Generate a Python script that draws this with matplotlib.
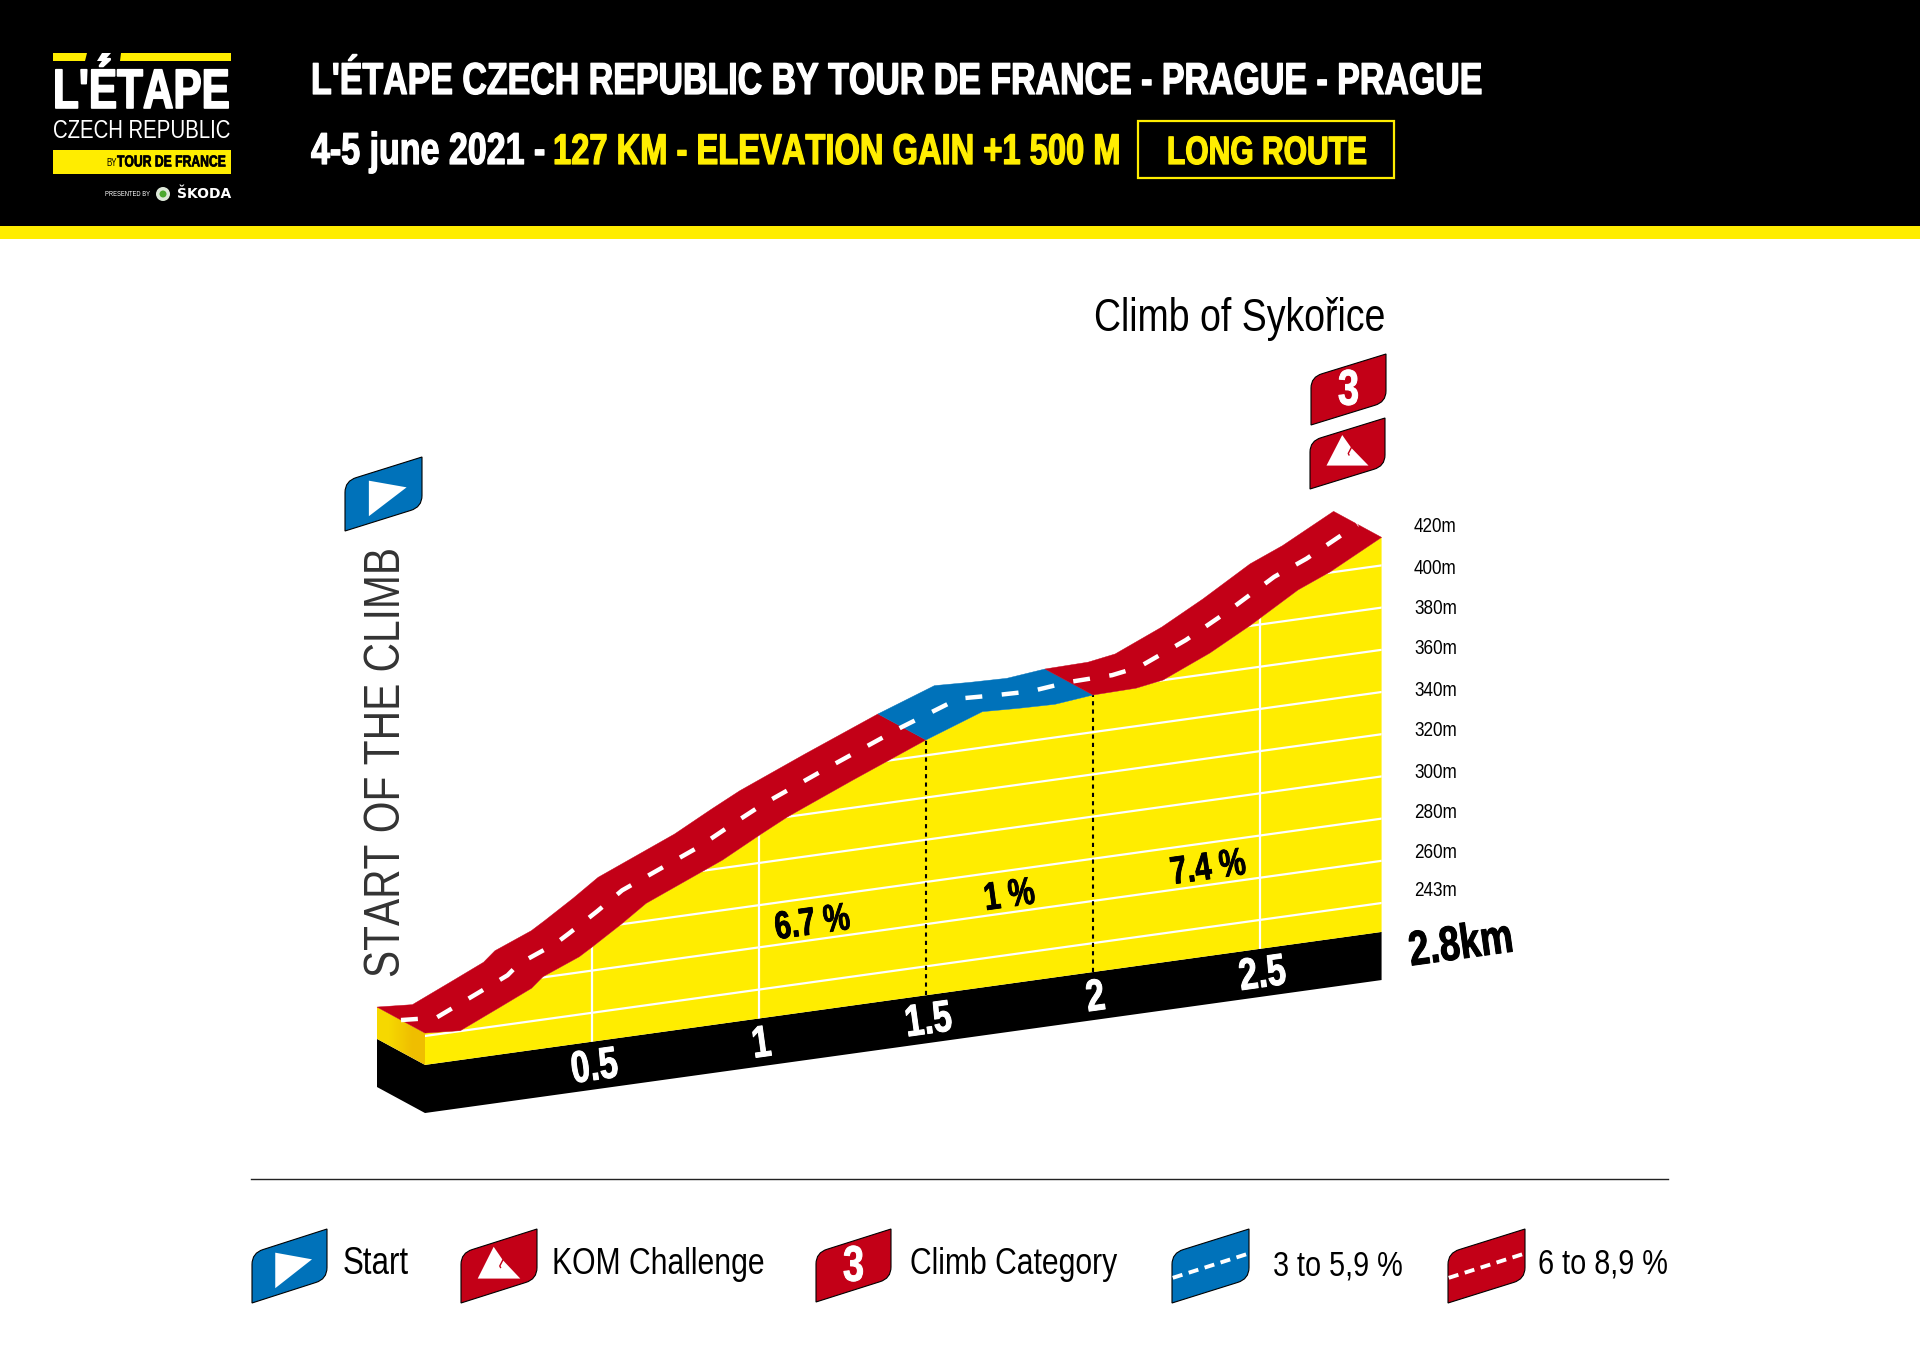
import numpy as np
import matplotlib
matplotlib.use("Agg")
import matplotlib.pyplot as plt
import matplotlib.patheffects as pe
from matplotlib import font_manager as fm
from matplotlib.path import Path
from matplotlib.patches import PathPatch, Polygon, Rectangle, Circle
from matplotlib.transforms import Affine2D
from fontTools.ttLib import TTFont

# ---------- data ----------
km = [0, .106, .227, .319, .353, .462, .502, .588, .662, .891, 1.002, 1.086, 1.281, 1.5,
      1.669, 1.777, 1.886, 2.0, 2.129, 2.21, 2.35, 2.473, 2.614, 2.711, 2.864]
elevation = [241.4, 240.2, 248.9, 255.6, 260.3, 267.4, 271.3, 280.1, 288.3, 303.8, 313.2, 320, 333.1, 347.3,
             357, 356.2, 355.7, 357.6, 358, 360.1, 369.8, 380.4, 393.9, 400.4, 413.3]
segment_breaks = [0, 1.5, 2.0, 2.864]
segment_kinds = ["red", "blue", "red"]
km_ticks = [0.5, 1, 1.5, 2, 2.5]
km_tick_labels = ["0.5", "1", "1.5", "2", "2.5"]
grid_levels = [240, 260, 280, 300, 320, 340, 360, 380, 400]
elev_labels = ["243m", "260m", "280m", "300m", "320m", "340m", "360m", "380m", "400m", "420m"]
pct_km = [1.16, 1.75, 2.345]
pct_labels = ["6.7 %", "1 %", "7.4 %"]
legend_labels = ["Start", "KOM Challenge", "Climb Category", "3 to 5,9 %", "6 to 8,9 %"]


# ---------- a condensed face built from the installed Liberation Sans ----------
def condensed(weight, ratio, family):
    src = fm.findfont(fm.FontProperties(family="Liberation Sans", weight=weight))
    f = TTFont(src)
    glyf, hmtx = f["glyf"], f["hmtx"]
    for tag in ("fpgm", "prep", "cvt ", "hdmx", "VDMX", "LTSH", "kern", "GPOS", "GSUB"):
        if tag in f:
            del f[tag]
    order = f.getGlyphOrder()
    for name in order:
        g = glyf[name]
        adv, lsb = hmtx[name]
        hmtx[name] = (round(adv * ratio), round(lsb * ratio))
        if g.isComposite():
            for c in g.components:
                c.x = round(c.x * ratio)
        elif g.numberOfContours > 0:
            g.coordinates.scale((ratio, 1))
            g.coordinates.toInt()
            g.program.fromBytecode(b"")
    for name in order:
        glyf[name].recalcBounds(glyf)
    for rec in f["name"].names:
        if rec.nameID in (1, 16):
            rec.string = family
        elif rec.nameID in (4, 6):
            rec.string = family + " " + weight
    out = f"{family}-{weight}.ttf"
    f.save(out)
    fm.fontManager.addfont(out)


condensed("normal", 0.82, "Resketch Narrow")
condensed("bold", 0.76, "Resketch Narrow")

# ---------- style ----------
YEL, RED, BLUE, BLK = "#FFED00", "#C30017", "#0072BA", "#000000"
plt.rcParams["font.family"] = ["Resketch Narrow", "Liberation Sans", "DejaVu Sans"]

fig = plt.figure(figsize=(19.2, 13.57), dpi=100, facecolor="white")
ax = fig.add_axes([0, 0, 1, 1])
ax.set_xlim(0, 1920)
ax.set_ylim(1357, 0)
ax.axis("off")
rend = fig.canvas.get_renderer()


def fit(t, width):
    """scale a horizontal text so that it spans the wanted width"""
    w = t.get_window_extent(rend).width
    t.set_fontsize(t.get_fontsize() * width / w)
    return t


def heavy(t, amount):
    """thicken a bold text with an outline in its own colour"""
    t.set_path_effects([pe.withStroke(linewidth=amount, foreground=t.get_color())])
    return t


# ---------- header ----------
ax.add_patch(Rectangle((0, 0), 1920, 226, fc=BLK, ec="none"))
ax.add_patch(Rectangle((0, 226), 1920, 13, fc=YEL, ec="none"))
ax.add_patch(Polygon([(53, 53), (87, 53), (85, 61), (53, 61)], fc=YEL, ec="none"))
ax.add_patch(Polygon([(121, 53), (231, 53), (231, 61), (120, 61)], fc=YEL, ec="none"))
ax.add_patch(Polygon([(102, 53), (111, 53), (104, 61), (97, 61)], fc="white", ec="none"))
heavy(fit(ax.text(53, 108, "L'ÉTAPE", color="white", weight="bold", fontsize=40, va="baseline"), 177), 1.2)
fit(ax.text(53, 138, "CZECH REPUBLIC", color="white", fontsize=20, va="baseline"), 178)
ax.add_patch(Rectangle((53, 150), 178, 24, fc=YEL, ec="none"))
ax.text(106, 163, "BY", color=BLK, fontsize=7, va="center")
heavy(fit(ax.text(117, 162, "TOUR DE FRANCE", color=BLK, weight="bold", fontsize=14, va="center"), 109), 0.4)
fit(ax.text(105, 194, "PRESENTED BY", color="white", fontsize=6, va="center"), 46)
ax.add_patch(Circle((163, 194), 7, fc="#DDE8D8", ec="none"))
ax.add_patch(Circle((163, 194), 3.5, fc="#4BA82E", ec="none"))
fit(ax.text(177, 194, "ŠKODA", color="white", weight="bold", fontsize=8, va="center",
            family=["DejaVu Sans"]), 54)

heavy(fit(ax.text(311, 94, "L'ÉTAPE CZECH REPUBLIC BY TOUR DE FRANCE - PRAGUE - PRAGUE", color="white",
                  weight="bold", fontsize=32, va="baseline"), 1172), 0.9)
heavy(fit(ax.text(311, 164, "4-5 june 2021 -", color="white", weight="bold", fontsize=30, va="baseline"), 234), 0.9)
heavy(fit(ax.text(553, 164, "127 KM - ELEVATION GAIN +1 500 M", color=YEL, weight="bold", fontsize=30,
                  va="baseline"), 567), 0.9)
ax.add_patch(Rectangle((1138, 121), 256, 57, fc="none", ec=YEL, lw=1.6))
heavy(fit(ax.text(1267, 164, "LONG ROUTE", color=YEL, weight="bold", fontsize=30, va="baseline", ha="center"),
          200), 0.9)

# ---------- profile transform: (km, elevation) -> oblique page position ----------
profile = Affine2D(np.array([[334.0, 0.0, 425.0],
                             [-46.43, -2.11, 1036.0 + 2.11 * 240.0],
                             [0.0, 0.0, 1.0]]))
rear_shift = (-48.0, -26.0)
tr = profile + ax.transData
tr_mid = profile + Affine2D().translate(rear_shift[0] / 2, rear_shift[1] / 2) + ax.transData
BASE_TOP, BASE_BOT, LABEL_E = 226.3, 203.5, 213.5
km_a, el_a = np.array(km), np.array(elevation)
end_km = km_a[-1]

# black base, front and side
ax.add_patch(Polygon([(0, BASE_TOP), (end_km, BASE_TOP), (end_km, BASE_BOT), (0, BASE_BOT)],
                     transform=tr, fc=BLK, ec="none", zorder=2))
p0 = profile.transform([(0, el_a[0]), (0, BASE_TOP), (0, BASE_BOT)])
rear = p0 + np.array(rear_shift)
ax.add_patch(Polygon([p0[1], p0[2], rear[2], rear[1]], fc=BLK, ec="none", zorder=2))
side = Polygon([p0[0], p0[1], rear[1], rear[0]], fc="none", ec="none", zorder=2)
ax.add_patch(side)
img = ax.imshow(np.array([[0.0, 1.0]]), extent=(rear[0, 0], p0[0, 0], p0[1, 1], rear[0, 1]), aspect="auto",
                cmap=matplotlib.colors.LinearSegmentedColormap.from_list("s", ["#F6D800", "#EFBE00"]), zorder=2,
                interpolation="bilinear")
img.set_clip_path(side)
ax.set_xlim(0, 1920)
ax.set_ylim(1357, 0)

# yellow face
face = Polygon(np.vstack([np.column_stack([km_a, el_a]), [end_km, BASE_TOP], [0, BASE_TOP]]),
               transform=tr, fc=YEL, ec="none", zorder=2)
ax.add_patch(face)
for lev in grid_levels:
    ln, = ax.plot([0, end_km], [lev, lev], transform=tr, color="white", lw=1.6, zorder=3)
    ln.set_clip_path(face)
for k in km_ticks:
    top = np.interp(k, km_a, el_a)
    if k in (1.5, 2):
        ax.plot([k, k], [BASE_TOP, top], transform=tr, color=BLK, lw=1.5, ls=(0, (2, 2)), zorder=4)
    else:
        ln, = ax.plot([k, k], [BASE_TOP, top], transform=tr, color="white", lw=1.6, zorder=3)
        ln.set_clip_path(face)

# road band
colors = {"red": RED, "blue": BLUE}
for a, b, kind in zip(segment_breaks[:-1], segment_breaks[1:], segment_kinds):
    inner = (km_a > a) & (km_a < b)
    ks = np.r_[a, km_a[inner], b]
    es = np.interp(ks, km_a, el_a)
    front = profile.transform(np.column_stack([ks, es]))
    ax.add_patch(Polygon(np.vstack([front, (front + np.array(rear_shift))[::-1]]), fc=colors[kind],
                         ec=colors[kind], lw=0.3, zorder=5))
ax.plot(km_a, el_a, transform=tr_mid, color="white", lw=3.2, ls=(0, (3.8, 4.4)), dash_capstyle="butt", zorder=6)

# axis texts
ROT = 7.9
for k, lab in zip(km_ticks, km_tick_labels):
    heavy(ax.text(k + 0.008, LABEL_E, lab, transform=tr, color="white", weight="bold", fontsize=32, ha="center",
                  va="center", rotation=ROT, rotation_mode="anchor", zorder=7), 0.7)
for k, lab in zip(pct_km, pct_labels):
    heavy(ax.text(k, 267.5, lab, transform=tr, color=BLK, weight="bold", fontsize=28, ha="center", va="center",
                  rotation=ROT, rotation_mode="anchor", zorder=7), 0.6)
heavy(ax.text(1461, 946, "2.8km", color=BLK, weight="bold", fontsize=35, ha="center", va="center",
              rotation=ROT, rotation_mode="anchor"), 0.7)
for y, lab in zip([890, 853, 813, 773, 731, 690, 649, 608, 568, 526], elev_labels):
    ax.text(1414, y, lab, color=BLK, fontsize=15, va="center")

st = ax.text(387, 762, "START OF THE CLIMB", color="#333333", rotation=90, ha="center", va="center", fontsize=37)
st.set_fontsize(37 * 430 / st.get_window_extent(rend).height)
fit(ax.text(1094, 331, "Climb of Sykořice", color=BLK, fontsize=30, va="baseline"), 292)


# ---------- badges ----------
BADGE = Path([(0, 1), (0, .48), (0, .322), (.15, .277), (1, 0), (1, .52), (1, .678), (.85, .723), (0, 1)],
             [Path.MOVETO, Path.LINETO, Path.CURVE3, Path.CURVE3, Path.LINETO, Path.LINETO, Path.CURVE3, Path.CURVE3,
              Path.CLOSEPOLY])


def badge(left, top, w, h, color):
    to_page = Affine2D().scale(w, h).translate(left, top)
    ax.add_patch(PathPatch(BADGE, transform=to_page + ax.transData, fc=color, ec=BLK, lw=0.8, zorder=8))
    return to_page + ax.transData


def start_icon(t):
    ax.add_patch(Polygon([(.31, .32), (.80, .41), (.31, .80)], transform=t, fc="white", ec="none", zorder=9))


def mountain_icon(t):
    ax.add_patch(Polygon([(.43, .24), (.55, .42), (.78, .67), (.22, .67)], transform=t, fc="white", ec="none", zorder=9))
    ax.plot([.55, .51, .52], [.42, .50, .52], transform=t, color=RED, lw=1, zorder=10)


def three_icon(left, top, w, h):
    heavy(ax.text(left + w * .5, top + h * .53, "3", color="white", weight="bold", fontsize=36, ha="center", va="center",
                  zorder=9), 0.7)


def dash_icon(t):
    ax.plot([0.01, 1], [.66, .33], transform=t, color="white", lw=2.8, ls=(0, (2.6, 1.7)), zorder=9)


start_icon(badge(345, 457, 77, 74, BLUE))
badge(1311, 354, 75, 71, RED)
three_icon(1311, 354, 75, 71)
mountain_icon(badge(1310, 418, 75, 71, RED))

start_icon(badge(252, 1229, 75, 74, BLUE))
mountain_icon(badge(461, 1229, 76, 74, RED))
badge(816, 1229, 75, 73, RED)
three_icon(816, 1229, 75, 73)
dash_icon(badge(1172, 1229, 77, 74, BLUE))
dash_icon(badge(1448, 1229, 77, 74, RED))

# ---------- legend ----------
ax.plot([251, 1668], [1179, 1179], color="#222222", lw=1)
spans = [(343, 409, 1274), (552, 765, 1274), (910, 1118, 1274), (1273, 1403, 1276), (1538, 1668, 1274)]
for (x0, x1, y), lab in zip(spans, legend_labels):
    fit(ax.text(x0, y, lab, color=BLK, fontsize=23, va="baseline"), x1 - x0)

fig.savefig("out.png", dpi=100)
